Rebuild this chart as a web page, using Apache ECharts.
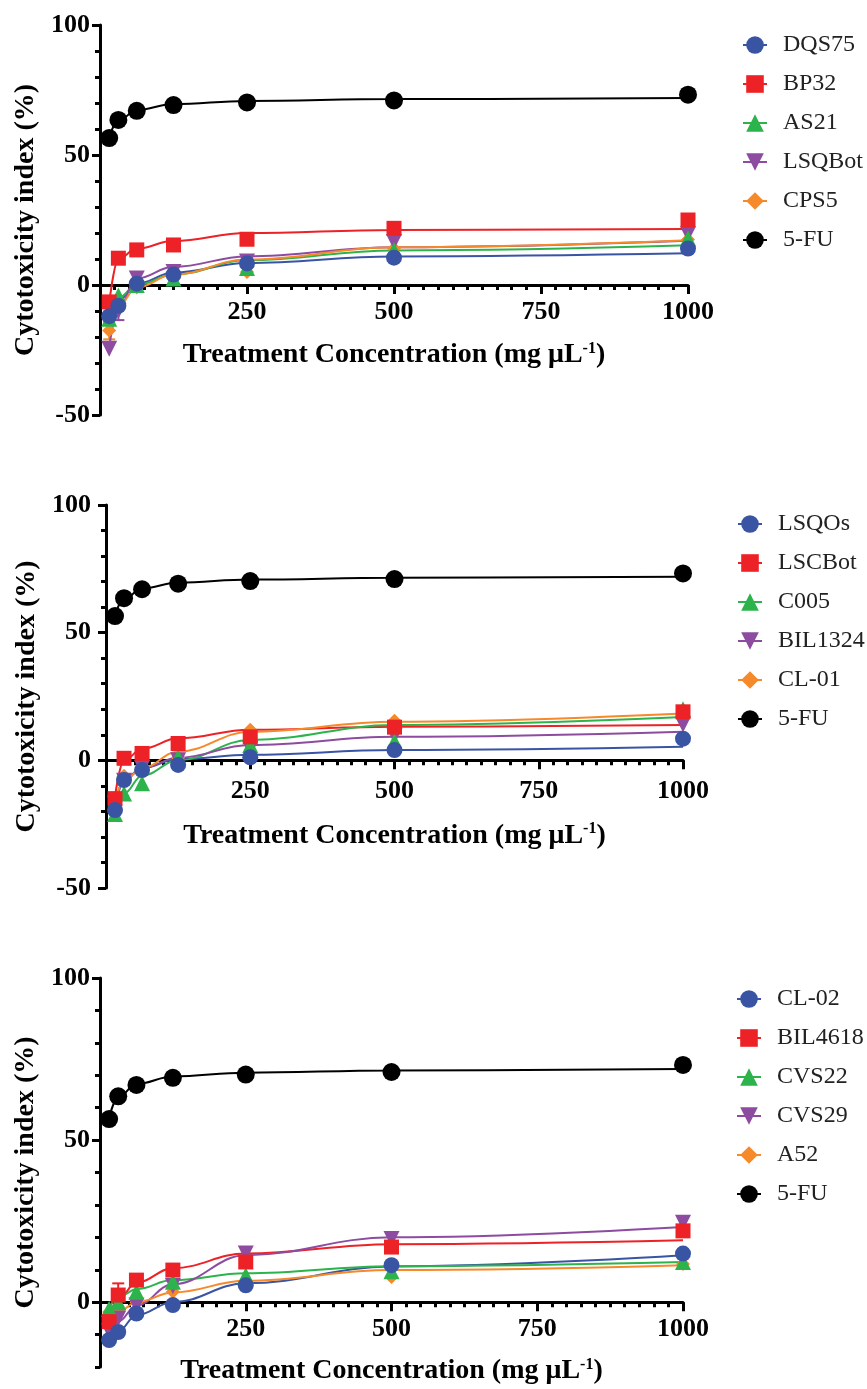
<!DOCTYPE html>
<html>
<head>
<meta charset="utf-8">
<script src="https://cdn.jsdelivr.net/npm/echarts@6/dist/echarts.min.js"></script>
<style>
  html, body { margin: 0; padding: 0; background: #fff; }
  #chart { width: 867px; height: 1389px; }
</style>
</head>
<body>
<div id="chart"></div>
<script>
// treatment concentrations (two-fold dilutions)
const conc = [15.625, 31.25, 62.5, 125, 250, 500, 1000]

// 5-FU control, shared by all three panels
const fu = [56.5, 63.5, 67, 69.2, 70.2, 71, 73.2]
const fuFit = [57, 63.2, 67.3, 69.6, 70.8, 71.5, 71.9]

// panel A: means and fitted curve read at the same concentrations
const dqs75 = [-12, -8, 0.5, 4, 8.3, 10.5, 14]
const dqs75Fit = [-12.5, -6, 0.5, 4.8, 8.5, 11, 12.2]
const bp32 = [-6.5, 10.3, 13.5, 15.4, 17.6, 21.8, 25]
const bp32Fit = [-7, 10, 14, 17, 20, 21.2, 21.5]
const as21 = [-13, -4, 0, 2.5, 6.5, 13.5, 18]
const as21Fit = [-13, -5, 0, 4, 9.5, 13.3, 15.3]
const lsqbot = [-24.5, -10, 2.5, 5, 9, 16.5, 19.5]
const lsqbotFit = [-24, -9, 2.5, 7, 11, 14.5, 17]
const lsqbotErr = [0, 3.5, 0, 0, 0, 0, 0]
const cps5 = [-17.5, -8, -1, 2.5, 5, 14, 17.5]
const cps5Fit = [-17, -8, -1, 4, 9.8, 14.5, 17.2]
const cps5Err = [3.4, 0, 0, 0, 0, 0, 0]

// panel B
const lsqos = [-19.5, -7.7, -3.8, -1.8, 1.2, 4, 8.5]
const lsqosFit = [-19, -7.5, -3, 0.5, 2.2, 4, 5.3]
const lscbot = [-15, 0.8, 2.7, 6.6, 9.2, 13, 19]
const lscbotFit = [-14, 0, 4.5, 8.6, 12, 13.2, 13.8]
const c005 = [-21, -13, -9, 1.2, 6, 7.5, 20]
const c005Fit = [-20, -13, -6, 0, 8, 13.8, 17]
const bil1324 = [-17, -8, -3, 0, 4.5, 9.5, 14]
const bil1324Fit = [-17, -8, -3, 1, 6, 9.2, 11.2]
const cl01 = [-16, -6, -3, 1, 12, 15.5, 19]
const cl01Fit = [-16, -8, -3, 3.4, 11.2, 15.1, 18.3]

// panel C
const cl02 = [-11.7, -9.2, -3.5, -0.9, 5.2, 11.4, 15]
const cl02Fit = [-12, -9, -4, 0, 5.8, 11, 14.5]
const bil4618 = [-6, 2.2, 6.8, 9.9, 12.4, 17, 22]
const bil4618Fit = [-5, 1, 6, 10.5, 15, 17.9, 19.1]
const bil4618Err = [0, 3.6, 0, 0, 0, 0, 0]
const cvs22 = [-2, 0, 3.2, 6.3, 8.3, 9.5, 12.4]
const cvs22Fit = [-2, 1.5, 4, 6.8, 8.9, 11.1, 12.4]
const cvs29 = [-9, -5, -1, 5, 15, 19.5, 24.5]
const cvs29Fit = [-10, -6, -1, 5.5, 14.5, 20, 23.2]
const a52 = [-3, -2.5, 0, 3.2, 6.2, 7.8, 11.8]
const a52Fit = [-5, -3, 0, 3, 6.6, 9.9, 11.4]

const font = '"Liberation Serif", "Times New Roman", serif'
const colors = ['#3A54A4', '#EC2227', '#2DB34B', '#8D4C9F', '#F6892A', '#000000']
const shapes = ['circle', 'rect', 'triangle', 'triangle', 'diamond', 'circle']
const rotates = [0, 0, 0, 180, 0, 0]
const sizes = [16, 15, 16, 16, 14, 18]

const panels = [
  {
    names: ['DQS75', 'BP32', 'AS21', 'LSQBot', 'CPS5', '5-FU'],
    means: [dqs75, bp32, as21, lsqbot, cps5, fu],
    fits: [dqs75Fit, bp32Fit, as21Fit, lsqbotFit, cps5Fit, fuFit],
    errs: [null, null, null, lsqbotErr, cps5Err, null],
    grid: { left: 100, top: 25, width: 588, height: 390 },
    yMin: -50, legendLeft: 742, legendTop: 33,
    xLabelMargin: 14, xNameGap: 56, yLabelMargin: 10, yNameGap: 51
  },
  {
    names: ['LSQOs', 'LSCBot', 'C005', 'BIL1324', 'CL-01', '5-FU'],
    means: [lsqos, lscbot, c005, bil1324, cl01, fu],
    fits: [lsqosFit, lscbotFit, c005Fit, bil1324Fit, cl01Fit, fuFit],
    errs: [null, null, null, null, null, null],
    grid: { left: 106, top: 505, width: 577, height: 383 },
    yMin: -50, legendLeft: 737, legendTop: 512,
    xLabelMargin: 18, xNameGap: 61, yLabelMargin: 15, yNameGap: 57
  },
  {
    names: ['CL-02', 'BIL4618', 'CVS22', 'CVS29', 'A52', '5-FU'],
    means: [cl02, bil4618, cvs22, cvs29, a52, fu],
    fits: [cl02Fit, bil4618Fit, cvs22Fit, cvs29Fit, a52Fit, fuFit],
    errs: [null, bil4618Err, null, null, null, null],
    grid: { left: 100, top: 978, width: 583, height: 389 },
    yMin: -20, legendLeft: 736, legendTop: 987,
    xLabelMargin: 14, xNameGap: 55, yLabelMargin: 10, yNameGap: 52
  }
]

const tickLabel = { fontFamily: font, fontSize: 26, fontWeight: 'bold', color: '#000' }
const titleRich = {
  t: { fontFamily: font, fontSize: 28, fontWeight: 'bold', color: '#000' },
  s: { fontFamily: font, fontSize: 16, fontWeight: 'bold', color: '#000', verticalAlign: 'top' }
}
const black = { color: '#000', width: 3 }

// x axis sits on y = 0: lift it from the grid bottom by hand
const xAxis = panels.map((p, i) => ({
  type: 'value', gridIndex: i, min: 0, max: 1000, interval: 250,
  offset: -p.grid.height * (0 - p.yMin) / (100 - p.yMin),
  name: '{t|Treatment Concentration (mg μL}{s|-1}{t|)}',
  nameLocation: 'middle', nameGap: p.xNameGap,
  nameTextStyle: { rich: titleRich },
  axisLine: { onZero: false, lineStyle: black },
  axisTick: { length: 9, lineStyle: black },
  minorTick: { show: true, splitNumber: 10, length: 5, lineStyle: black },
  axisLabel: { ...tickLabel, showMinLabel: false, margin: p.xLabelMargin, formatter: v => String(v) },
  splitLine: { show: false }
}))

const yAxis = panels.map((p, i) => {
  const ax = {
    type: 'value', gridIndex: i, position: 'left', min: p.yMin, max: 100,
    name: 'Cytotoxicity index (%)', nameLocation: 'middle', nameGap: p.yNameGap,
    nameTextStyle: { fontFamily: font, fontSize: 28, fontWeight: 'bold', color: '#000' },
    axisLine: { show: true, onZero: false, lineStyle: black },
    axisLabel: { ...tickLabel, margin: p.yLabelMargin },
    splitLine: { show: false }
  }
  if (p.yMin % 50 === 0) {
    ax.interval = 50
    ax.axisTick = { length: 8, lineStyle: black }
    ax.minorTick = { show: true, splitNumber: 5, length: 5, lineStyle: black }
  } else {
    // bottom panel stops at -20: ticks every 10, labels on multiples of 50
    ax.interval = 10
    ax.axisTick = { length: 5, lineStyle: black }
    ax.axisLabel.formatter = v => (v % 50 === 0 ? String(v) : '')
  }
  return ax
})
// longer ticks at 0/50/100 on the bottom panel
yAxis.push({
  type: 'value', gridIndex: 2, position: 'left', min: -20, max: 100,
  axisLine: { show: false, onZero: false },
  axisLabel: { show: false },
  axisTick: { show: true, customValues: [0, 50, 100], length: 8, lineStyle: black },
  splitLine: { show: false }
})

function errorBars(color) {
  return function (params, api) {
    const err = api.value(2)
    if (!err) return
    const top = api.coord([api.value(0), api.value(1) + err])
    const bot = api.coord([api.value(0), api.value(1) - err])
    const style = { stroke: color, lineWidth: 2 }
    return {
      type: 'group',
      children: [
        { type: 'line', shape: { x1: top[0], y1: top[1], x2: bot[0], y2: bot[1] }, style },
        { type: 'line', shape: { x1: top[0] - 6, y1: top[1], x2: top[0] + 6, y2: top[1] }, style },
        { type: 'line', shape: { x1: bot[0] - 6, y1: bot[1], x2: bot[0] + 6, y2: bot[1] }, style }
      ]
    }
  }
}

const lines = []
const bars = []
const marks = []
panels.forEach((p, i) => {
  p.names.forEach((name, j) => {
    lines.push({
      name, type: 'line', xAxisIndex: i, yAxisIndex: i,
      data: conc.map((x, k) => [x, p.fits[j][k]]),
      smooth: 0.4, smoothMonotone: 'x', showSymbol: false,
      symbol: shapes[j], symbolRotate: rotates[j], symbolSize: sizes[j],
      lineStyle: { color: colors[j], width: 2 },
      itemStyle: { color: colors[j] },
      silent: true
    })
    if (p.errs[j]) {
      bars.push({
        type: 'custom', xAxisIndex: i, yAxisIndex: i, silent: true,
        data: conc.map((x, k) => [x, p.means[j][k], p.errs[j][k]]),
        renderItem: errorBars(colors[j]), z: 2
      })
    }
  })
  // first sample ends up on top, as in the original
  for (let j = p.names.length - 1; j >= 0; j--) {
    marks.push({
      name: p.names[j], type: 'scatter', xAxisIndex: i, yAxisIndex: i,
      data: conc.map((x, k) => [x, p.means[j][k]]),
      symbol: shapes[j], symbolRotate: rotates[j], symbolSize: sizes[j],
      itemStyle: { color: colors[j], opacity: 1 },
      z: 3
    })
  }
})

const legend = panels.map(p => ({
  data: p.names, orient: 'vertical', left: p.legendLeft, top: p.legendTop,
  padding: 0, itemWidth: 24, itemHeight: 22, itemGap: 15, selectedMode: false,
  textStyle: { fontFamily: font, fontSize: 24, color: '#222', lineHeight: 22, padding: [0, 0, 0, 11] }
}))

const chart = echarts.init(document.getElementById('chart'))
chart.setOption({
  animation: false,
  backgroundColor: '#fff',
  grid: panels.map(p => p.grid),
  legend,
  xAxis,
  yAxis,
  series: lines.concat(bars, marks)
})
</script>
</body>
</html>
